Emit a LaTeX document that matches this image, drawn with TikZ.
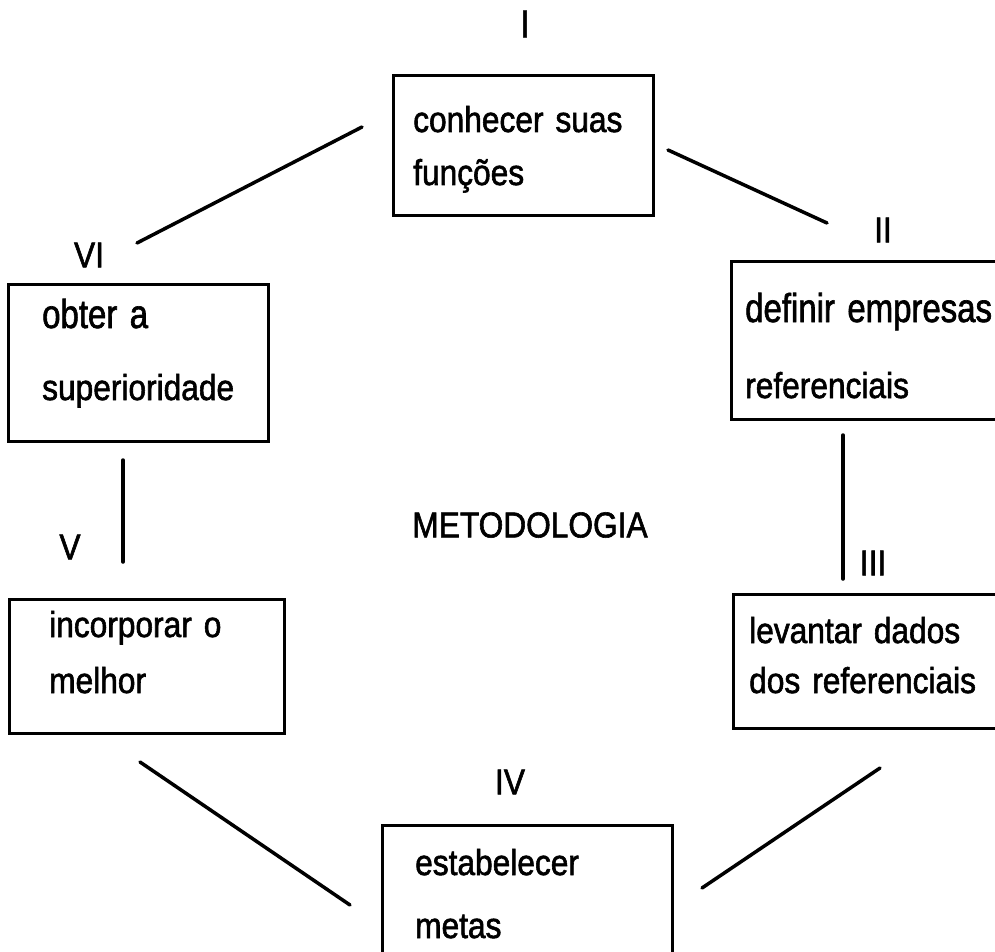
\documentclass[tikz,border=0pt]{standalone}
\usepackage{fontspec}
\setmainfont{Liberation Sans}[FakeStretch=0.88, FakeBold=1.6]

\newcommand{\tallline}[1]{\scalebox{1.04}[1.12]{#1}}

\tikzset{
	box/.style={draw, line width=2.6pt, anchor=north west, inner sep=0pt},
	txt/.style={anchor=base west, align=left, text width=260pt, inner sep=0pt, font=\fontsize{36}{36}\selectfont},
	num/.style={inner sep=0pt, font=\fontsize{36}{36}\selectfont},
	link/.style={line width=3.5pt, line cap=round},
}

\begin{document}
\begin{tikzpicture}[x=1pt,y=-1pt]
		\useasboundingbox (0,0) rectangle (995,952);
		\clip (0,0) rectangle (995,952);
		% boxes
		\node[box, minimum width=260, minimum height=140] (b1) at (392,74) {};
		\node[box, minimum width=300, minimum height=158] (b2) at (730,260) {};
		\node[box, minimum width=300, minimum height=134] (b3) at (732,593) {};
		\node[box, minimum width=290, minimum height=160] (b4) at (381,824) {};
		\node[box, minimum width=275, minimum height=134] (b5) at (8,598) {};
		\node[box, minimum width=260, minimum height=157] (b6) at (7,283) {};
		% texts
		\node[txt] (t1) at (413,132) {conhecer suas\\[17pt]funções};
		\node[txt] (t2) at (745,322) {\tallline{definir empresas}\\[40pt]referenciais};
		\node[txt] (t3) at (749,643) {levantar dados\\[14pt]dos referenciais};
		\node[txt] (t4) at (415,875) {estabelecer\\[27pt]metas};
		\node[txt] (t5) at (49,637) {incorporar o\\[20pt]melhor};
		\node[txt] (t6) at (42,328) {\tallline{obter a}\\[36pt]superioridade};
		\node[num] (meto) at (530,525) {METODOLOGIA};
		% numbers
		\node[num, font=\fontsize{39}{39}\selectfont] (n1) at (525,24) {I};
		\node[num] (n2) at (883,230) {II};
		\node[num] (n3) at (873,563) {III};
		\node[num] (n4) at (510,782) {IV};
		\node[num] (n5) at (70,547) {V};
		\node[num] (n6) at (89,255) {VI};
		% links
		\coordinate (a6) at (137,243);
		\coordinate (a1) at (362,127);
		\coordinate (c1) at (668,150);
		\coordinate (c2) at (827,223);
		\coordinate (d2) at (843,435);
		\coordinate (d3) at (843,579);
		\coordinate (e3) at (880,768);
		\coordinate (e4) at (702,888);
		\coordinate (f4) at (350,905);
		\coordinate (f5) at (140,762);
		\coordinate (g5) at (123,562);
		\coordinate (g6) at (123,460);
		\draw[link] (a6) -- (a1);
		\draw[link] (c1) -- (c2);
		\draw[link] (d2) -- (d3);
		\draw[link] (e3) -- (e4);
		\draw[link] (f4) -- (f5);
		\draw[link] (g5) -- (g6);
	\end{tikzpicture}
\end{document}
